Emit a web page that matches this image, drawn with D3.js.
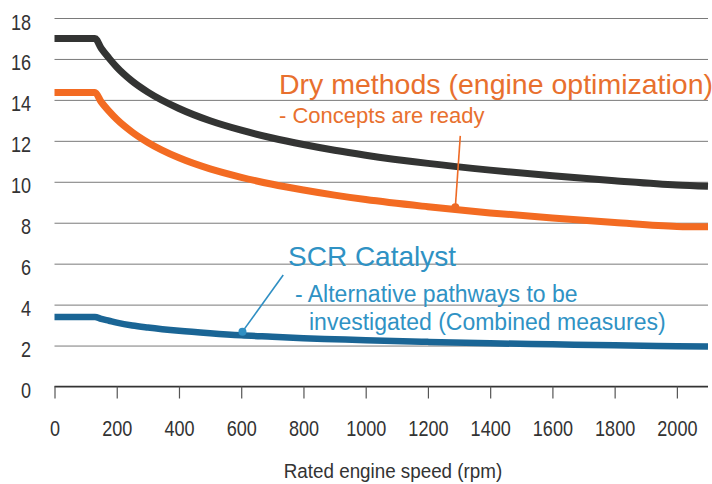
<!DOCTYPE html>
<html>
<head>
<meta charset="utf-8">
<script src="https://cdn.jsdelivr.net/npm/d3@7"></script>
<style>
  body { margin: 0; background: #fff; }
  text { font-family: "Liberation Sans", Arial, sans-serif; }
</style>
</head>
<body>
<div id="chart"></div>
<script>
// rated engine speed (rpm) and NOx limits
var rpm = [0, 130, 150, 175, 200, 250, 300, 400, 500, 600, 700, 800, 900, 1000, 1200, 1400, 1600, 1800, 2000, 2100];
var tierOne = [17.0, 17.0, 16.52, 16.04, 15.60, 14.91, 14.38, 13.58, 12.98, 12.52, 12.14, 11.82, 11.54, 11.30, 10.90, 10.57, 10.29, 10.05, 9.84, 9.78];
var tierTwo = [14.36, 14.36, 13.90, 13.45, 13.05, 12.42, 11.92, 11.17, 10.63, 10.22, 9.88, 9.60, 9.35, 9.13, 8.78, 8.48, 8.23, 8.01, 7.82, 7.80];
var tierThree = [3.40, 3.40, 3.30, 3.21, 3.12, 2.98, 2.88, 2.72, 2.60, 2.50, 2.43, 2.36, 2.31, 2.26, 2.18, 2.11, 2.06, 2.01, 1.97, 1.95];

var xTicks = [0, 200, 400, 600, 800, 1000, 1200, 1400, 1600, 1800, 2000];
var yTicks = [0, 2, 4, 6, 8, 10, 12, 14, 16, 18];

// annotation anchors: [rpm, value]
var dryDot = [1288, 8.75], dryTop = [1304, 12.24];
var scrDot = [604, 2.68], scrTop = [735, 5.45];

var W = 712, H = 484;
var plotLeft = 54.5, plotRight = 708, plotTop = 18, plotBottom = 386.5;

var svg = d3.select("#chart").append("svg")
    .attr("width", W)
    .attr("height", H);

var x = d3.scaleLinear().domain([0, 2100]).range([plotLeft, plotRight]);
var y = d3.scaleLinear().domain([0, 18]).range([plotBottom, plotTop]);

// the tick labels are set in a narrow face: squeeze them horizontally
function narrow(sel, k) {
    sel.each(function () {
        var w = this.getComputedTextLength();
        d3.select(this).attr("textLength", w * k).attr("lengthAdjust", "spacingAndGlyphs");
    });
}

// gridlines + y labels
svg.append("g")
    .attr("transform", "translate(" + plotLeft + ",0)")
    .call(d3.axisLeft(y).tickValues(yTicks).tickSize(-(plotRight - plotLeft)).tickPadding(23.5))
    .call(g => g.select(".domain").remove())
    .call(g => g.selectAll(".tick line").attr("stroke", "#7a7a7a").attr("stroke-width", 1))
    .call(g => g.selectAll(".tick text")
        .attr("fill", "#333")
        .attr("dy", "0.5em")
        .style("font-size", "22px")
        .call(narrow, 0.82));

// x axis
svg.append("g")
    .attr("transform", "translate(0," + plotBottom + ")")
    .call(d3.axisBottom(x).tickValues(xTicks).tickSize(12).tickPadding(22).tickFormat(d3.format("d")))
    .call(g => g.select(".domain").attr("stroke", "#333").attr("stroke-width", 1.3).attr("d", "M" + plotLeft + ",0H" + plotRight))
    .call(g => g.selectAll(".tick line").attr("stroke", "#555").attr("stroke-width", 1.2))
    .call(g => g.selectAll(".tick text").attr("fill", "#333").style("font-size", "22px").call(narrow, 0.82));

svg.append("text")
    .attr("x", 393)
    .attr("y", 477.5)
    .attr("text-anchor", "middle")
    .attr("fill", "#333")
    .style("font-size", "20px")
    .text("Rated engine speed (rpm)")
    .call(narrow, 0.94);

var line = d3.line()
    .x(d => x(d[0]))
    .y(d => y(d[1]))
    .curve(d3.curveMonotoneX);

var series = [
    { values: tierOne, color: "#333433", width: 7 },
    { values: tierTwo, color: "#f36b22", width: 7 },
    { values: tierThree, color: "#1a6595", width: 6.5 }
];

svg.selectAll(".curve")
    .data(series)
    .join("path")
    .attr("class", "curve")
    .attr("fill", "none")
    .attr("stroke", d => d.color)
    .attr("stroke-width", d => d.width)
    .attr("stroke-linejoin", "round")
    .attr("d", d => line(rpm.map((r, i) => [r, d.values[i]])));

// annotations
function leader(dot, topPt, color) {
    svg.append("line")
        .attr("x1", x(topPt[0])).attr("y1", y(topPt[1]))
        .attr("x2", x(dot[0])).attr("y2", y(dot[1]))
        .attr("stroke", color)
        .attr("stroke-width", 1.6);
    svg.append("circle")
        .attr("cx", x(dot[0])).attr("cy", y(dot[1]))
        .attr("r", 4)
        .attr("fill", color);
}
leader(dryDot, dryTop, "#ee6a25");
leader(scrDot, scrTop, "#2f8fc3");

svg.append("text")
    .attr("x", 279).attr("y", 94)
    .attr("fill", "#e8702e")
    .style("font-size", "28.5px")
    .text("Dry methods (engine optimization)");

svg.append("text")
    .attr("x", 279).attr("y", 123)
    .attr("fill", "#e8702e")
    .style("font-size", "22px")
    .text("- Concepts are ready");

svg.append("text")
    .attr("x", 288).attr("y", 266)
    .attr("fill", "#2f92c4")
    .style("font-size", "28px")
    .text("SCR Catalyst");

svg.append("text")
    .attr("x", 295).attr("y", 302)
    .attr("fill", "#2f92c4")
    .style("font-size", "23px")
    .text("-  Alternative pathways to be");

svg.append("text")
    .attr("x", 309).attr("y", 330)
    .attr("fill", "#2f92c4")
    .style("font-size", "23px")
    .text("investigated (Combined measures)");
</script>
</body>
</html>
